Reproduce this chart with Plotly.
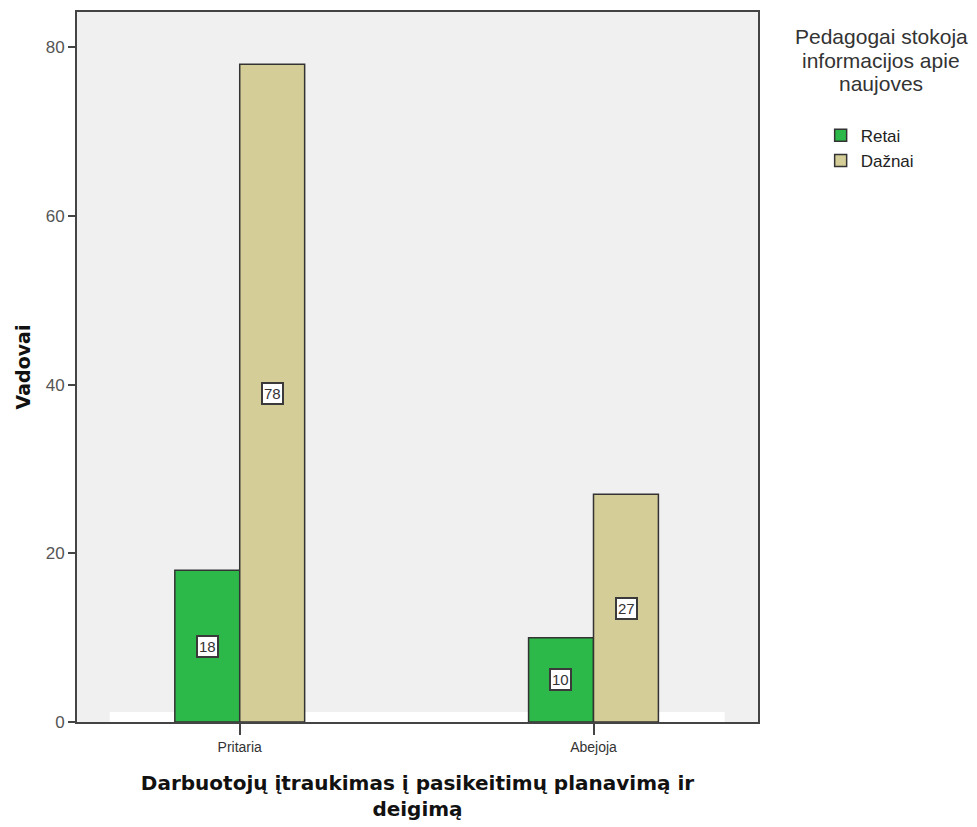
import plotly.graph_objects as go

# Survey counts by category and frequency
categories = ["Pritaria", "Abejoja"]
series_names = ["Retai", "Dažnai"]
retai = [18, 10]
daznai = [78, 27]
y_ticks = [0, 20, 40, 60, 80]
legend_title_lines = ["Pedagogai stokoja", "informacijos apie", "naujoves"]

colors = {"Retai": "#2db84a", "Dažnai": "#d4cd98"}

fig = go.Figure()
for name, vals in zip(series_names, [retai, daznai]):
    fig.add_trace(go.Bar(
        x=categories, y=vals, name=name,
        marker=dict(color=colors[name], line=dict(color="#333333", width=1.5)),
    ))

# Value labels in white boxes at the middle of each bar
offsets = {"Retai": -0.092, "Dažnai": 0.092}
for name, vals in zip(series_names, [retai, daznai]):
    for i, v in enumerate(vals):
        fig.add_annotation(
            x=i + offsets[name], y=v / 2, xref="x", yref="y",
            text=str(v), showarrow=False,
            font=dict(family="Liberation Sans, Arial", size=15, color="#333333"),
            bgcolor="white", bordercolor="#3a3a3a", borderwidth=2, borderpad=1,
        )

# Legend title, one line per annotation for tight spacing
plot_top, plot_bottom = 10, 722
for k, line in enumerate(legend_title_lines):
    row = 35 + 23.5 * k
    fig.add_annotation(
        x=1.181, y=(plot_bottom - row) / (plot_bottom - plot_top),
        xref="paper", yref="paper",
        xanchor="center", yanchor="middle",
        text=line, showarrow=False,
        font=dict(family="Liberation Sans, Arial", size=21, color="#333333"),
    )

# Light floor strip along the baseline
fig.add_shape(
    type="rect", xref="paper", yref="y", x0=0.048, x1=0.951, y0=0, y1=1.2,
    fillcolor="white", line=dict(width=0), layer="below",
)

fig.update_layout(
    width=977, height=827,
    margin=dict(l=77, r=219, t=10, b=105),
    paper_bgcolor="white",
    plot_bgcolor="#f0f0f0",
    barmode="group",
    bargap=0.633,
    bargroupgap=0,
    showlegend=True,
    legend=dict(
        x=1.092, y=0.851, xanchor="left", yanchor="top",
        font=dict(family="Liberation Sans, Arial", size=17, color="#222222"),
        bgcolor="rgba(0,0,0,0)", itemwidth=30,
    ),
    xaxis=dict(
        range=[-0.46, 1.465],
        showline=True, linecolor="#444444", linewidth=2, mirror=True,
        ticks="outside", ticklen=11, tickcolor="#444444", tickwidth=2,
        tickfont=dict(family="Liberation Sans, Arial", size=14, color="#333333"),
        title=dict(
            text="<b>Darbuotojų įtraukimas į pasikeitimų planavimą ir<br>deigimą</b>",
            font=dict(family="DejaVu Sans", size=20, color="#111111"),
            standoff=22,
        ),
        showgrid=False, zeroline=False,
    ),
    yaxis=dict(
        range=[0, 84.2],
        tickvals=y_ticks,
        showline=True, linecolor="#444444", linewidth=2, mirror=True,
        ticks="outside", ticklen=7, tickcolor="#444444", tickwidth=2,
        tickfont=dict(family="Liberation Sans, Arial", size=17, color="#555555"),
        title=dict(
            text="<b>Vadovai</b>",
            font=dict(family="DejaVu Sans", size=19, color="#111111"),
            standoff=10,
        ),
        showgrid=False, zeroline=False,
    ),
)

fig.write_html("out.html")
